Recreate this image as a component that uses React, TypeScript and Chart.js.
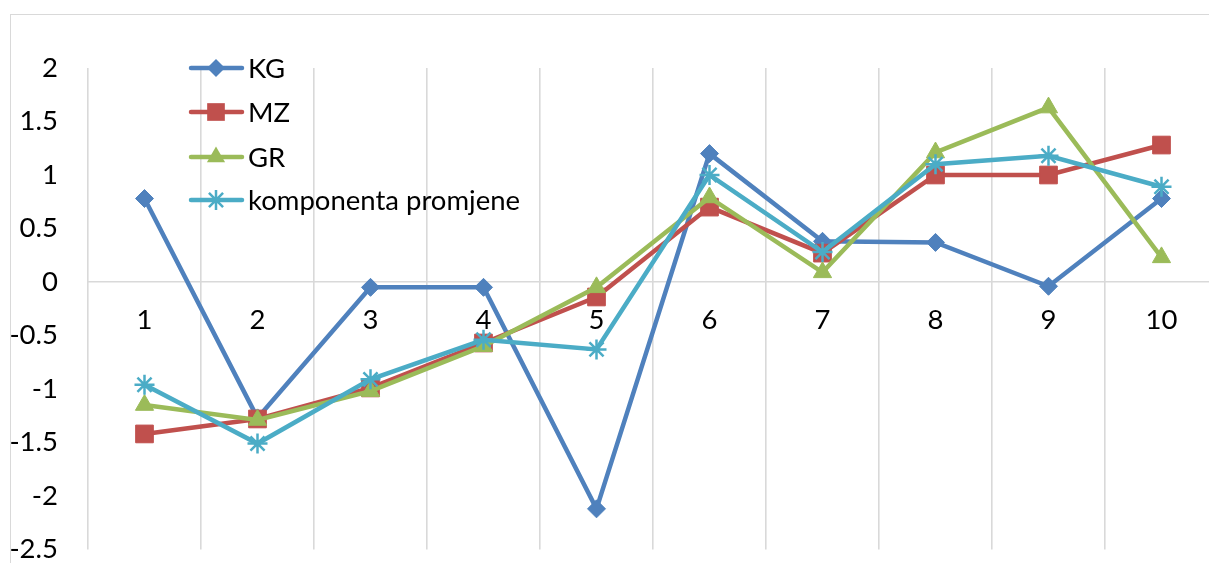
import React, { useEffect, useRef } from "react";
import { Chart, registerables } from "chart.js";

Chart.register(...registerables);

const categories = ["1", "2", "3", "4", "5", "6", "7", "8", "9", "10"];
const kgValues = [0.78, -1.27, -0.05, -0.05, -2.12, 1.2, 0.38, 0.37, -0.04, 0.78];
const mzValues = [-1.42, -1.28, -0.99, -0.57, -0.14, 0.7, 0.27, 1.0, 1.0, 1.28];
const grValues = [-1.15, -1.29, -1.02, -0.6, -0.05, 0.79, 0.09, 1.21, 1.63, 0.23];
const kpValues = [-0.96, -1.51, -0.91, -0.54, -0.63, 1.0, 0.28, 1.1, 1.18, 0.89];
const seriesNames = ["KG", "MZ", "GR", "komponenta promjene"];
const yTicks = { min: -2.5, max: 2, step: 0.5 };

const COLORS = ["#4F81BD", "#C0504D", "#9BBB59", "#4BACC6"];
const STYLES = ["rectRot", "rect", "triangle", "star"];
const RADII = [9, 12.5, 10.5, 10];
const FONT = "Lato";
const FONT_SIZE = 27.5;

function drawMarker(ctx: CanvasRenderingContext2D, style: string, x: number, y: number, r: number, color: string) {
  ctx.save();
  ctx.fillStyle = color;
  ctx.strokeStyle = color;
  ctx.beginPath();
  if (style === "rectRot") {
    ctx.moveTo(x, y - r);
    ctx.lineTo(x + r, y);
    ctx.lineTo(x, y + r);
    ctx.lineTo(x - r, y);
    ctx.closePath();
    ctx.fill();
  } else if (style === "rect") {
    const s = r * Math.SQRT1_2;
    ctx.rect(x - s, y - s, 2 * s, 2 * s);
    ctx.fill();
  } else if (style === "triangle") {
    ctx.moveTo(x, y - r);
    ctx.lineTo(x + r * Math.sin(Math.PI / 3), y + r * 0.5);
    ctx.lineTo(x - r * Math.sin(Math.PI / 3), y + r * 0.5);
    ctx.closePath();
    ctx.fill();
  } else {
    ctx.lineWidth = 2.5;
    for (let i = 0; i < 4; i++) {
      const ang = (i * Math.PI) / 4;
      ctx.moveTo(x - Math.cos(ang) * r, y - Math.sin(ang) * r);
      ctx.lineTo(x + Math.cos(ang) * r, y + Math.sin(ang) * r);
    }
    ctx.stroke();
  }
  ctx.restore();
}

const legendPlugin = {
  id: "insideLegend",
  afterDatasetsDraw(chart: any) {
    const ctx = chart.ctx as CanvasRenderingContext2D;
    const rows = [68, 112, 157, 200];
    seriesNames.forEach((name, i) => {
      const y = rows[i];
      ctx.save();
      ctx.strokeStyle = COLORS[i];
      ctx.lineWidth = 4.5;
      ctx.lineCap = "round";
      ctx.beginPath();
      ctx.moveTo(191, y);
      ctx.lineTo(242, y);
      ctx.stroke();
      ctx.restore();
      drawMarker(ctx, STYLES[i], 216, y, RADII[i], COLORS[i]);
      ctx.save();
      ctx.fillStyle = "#000";
      ctx.font = `${FONT_SIZE}px ${FONT}`;
      ctx.textBaseline = "middle";
      ctx.textAlign = "left";
      ctx.fillText(name, 248, y + 1);
      ctx.restore();
    });
  },
};

export default function App() {
  const canvasRef = useRef<HTMLCanvasElement | null>(null);

  useEffect(() => {
    if (!canvasRef.current) return;
    const all = [kgValues, mzValues, grValues, kpValues];
    const chart = new Chart(canvasRef.current, {
      type: "line",
      data: {
        labels: categories,
        datasets: all.map((vals, i) => ({
          label: seriesNames[i],
          data: vals,
          borderColor: COLORS[i],
          backgroundColor: COLORS[i],
          borderWidth: 4.5,
          tension: 0,
          pointStyle: STYLES[i] as any,
          pointRadius: RADII[i],
          pointHoverRadius: RADII[i],
          pointBackgroundColor: COLORS[i],
          pointBorderColor: COLORS[i],
          pointBorderWidth: i === 3 ? 2.5 : 1,
          order: 3 - i,
          clip: false as any,
        })),
      },
      options: {
        responsive: false,
        animation: false,
        devicePixelRatio: 1,
        layout: { padding: { top: 68, right: 22, bottom: 50.5, left: 0 } },
        plugins: {
          legend: { display: false },
          tooltip: { enabled: false },
        },
        scales: {
          x: {
            type: "category",
            position: { y: 0 } as any,
            offset: true,
            grid: {
              display: true,
              offset: true,
              color: "#d9d9d9",
              lineWidth: 1.6,
              drawTicks: false,
            },
            border: { display: true, color: "#d9d9d9", width: 1.6 },
            ticks: {
              color: "#000",
              font: { family: FONT, size: FONT_SIZE },
              padding: 22,
              maxRotation: 0,
              autoSkip: false,
            },
          },
          y: {
            type: "linear",
            min: yTicks.min,
            max: yTicks.max,
            afterFit: (scale: any) => {
              scale.width = 88;
            },
            grid: { display: false, drawTicks: false },
            border: { display: false },
            ticks: {
              stepSize: yTicks.step,
              color: "#000",
              font: { family: FONT, size: FONT_SIZE },
              padding: 30,
              callback: (v: any) => String(v),
            },
          },
        },
      },
      plugins: [legendPlugin],
    });
    return () => chart.destroy();
  }, []);

  return (
    <div
      style={{
        position: "absolute",
        left: 0,
        top: 0,
        width: 1209,
        height: 563,
        overflow: "hidden",
        background: "#fff",
      }}
    >
      <div
        style={{
          position: "absolute",
          left: 10,
          top: 14,
          width: 1240,
          height: 620,
          border: "1.5px solid #d9d9d9",
          boxSizing: "border-box",
        }}
      />
      <canvas
        ref={canvasRef}
        width={1240}
        height={600}
        style={{ position: "absolute", left: 0, top: 0, width: 1240, height: 600 }}
      />
    </div>
  );
}
